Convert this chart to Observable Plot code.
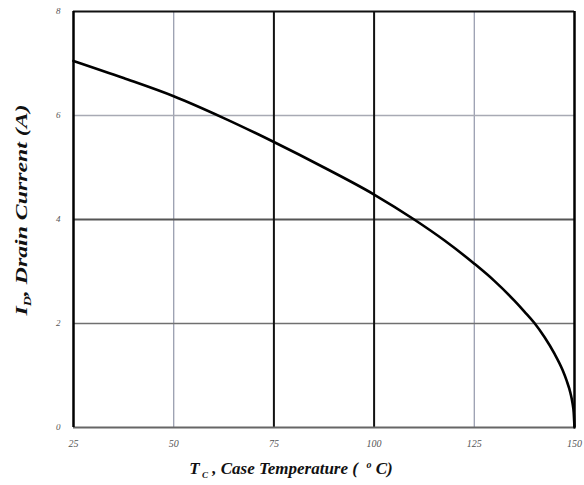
<!DOCTYPE html>
<html>
<head>
<meta charset="utf-8">
<script src="https://cdn.jsdelivr.net/npm/d3@7"></script>
<script src="https://cdn.jsdelivr.net/npm/@observablehq/plot@0.6"></script>
<style>
  html, body { margin: 0; padding: 0; background: #fff; }
</style>
</head>
<body>
<div id="chart"></div>
<script>
// Data
const caseTemp = [25, 37.5, 50, 62.5, 75, 87.5, 100, 110, 117.5, 125, 130, 135, 137.5, 140, 142.5, 145, 147, 148, 149, 149.5, 149.8, 150];
const drainCurrent = [7.05, 6.72, 6.37, 5.95, 5.49, 5.0, 4.48, 4.0, 3.6, 3.15, 2.82, 2.44, 2.23, 2.01, 1.74, 1.42, 1.11, 0.91, 0.66, 0.47, 0.29, 0.0];
const tempTicks = [25, 50, 75, 100, 125, 150];
const currentTicks = [0, 2, 4, 6, 8];
const darkGridX = [75, 100];
const lightGridX = [50, 125];
const darkGridY = [4];
const midGridY = [2];
const lightGridY = [6];

const curve = caseTemp.map((t, i) => ({t, i: drainCurrent[i]}));

const chart = Plot.plot({
  width: 584,
  height: 485,
  marginLeft: 73,
  marginRight: 10,
  marginTop: 11,
  marginBottom: 58,
  style: {background: "#fff", fontFamily: "Liberation Serif, serif"},
  x: {domain: [25, 150], ticks: tempTicks, tickSize: 0, tickPadding: 12, label: null},
  y: {domain: [0, 8], ticks: currentTicks, tickSize: 0, tickPadding: 13, label: null},
  marks: [
    Plot.ruleX(lightGridX, {stroke: "#9a9fb0", strokeWidth: 1.3}),
    Plot.ruleY(lightGridY, {stroke: "#a8aab4", strokeWidth: 1.5}),
    Plot.ruleY(midGridY, {stroke: "#707070", strokeWidth: 1.5}),
    Plot.ruleY(darkGridY, {stroke: "#555", strokeWidth: 2}),
    Plot.ruleX(darkGridX, {stroke: "#111", strokeWidth: 2}),
    Plot.ruleY([0], {stroke: "#666", strokeWidth: 2}),
    Plot.ruleY([8], {stroke: "#111", strokeWidth: 2}),
    Plot.ruleX([25, 150], {stroke: "#000", strokeWidth: 2.5}),
    Plot.line(curve, {x: "t", y: "i", stroke: "#000", strokeWidth: 2.6, curve: "monotone-x"}),
    Plot.axisX({ticks: tempTicks, tickSize: 0, tickPadding: 12, fill: "#555", fontSize: 10, fontStyle: "italic", label: null}),
    Plot.axisY({ticks: currentTicks, tickSize: 0, tickPadding: 13, fill: "#555", fontSize: 9, fontStyle: "italic", label: null})
  ]
});

document.getElementById("chart").appendChild(chart);

// Axis titles with subscripts
const svg = d3.select(chart);
const xt = svg.append("text")
  .attr("x", 291).attr("y", 474)
  .attr("text-anchor", "middle")
  .attr("font-family", "Liberation Serif, serif")
  .attr("font-style", "italic").attr("font-weight", "bold")
  .attr("font-size", 17).attr("fill", "#111");
xt.append("tspan").text("T");
xt.append("tspan").attr("font-size", 9).attr("dy", 4).text(" C");
xt.append("tspan").attr("dy", -4).text(" , Case Temperature (  ");
xt.append("tspan").attr("font-size", 10).attr("dy", -6).text("o");
xt.append("tspan").attr("dy", 6).text(" C)");

const yt = svg.append("text")
  .attr("transform", "translate(27,210) rotate(-90) scale(1.4,1)")
  .attr("text-anchor", "middle")
  .attr("font-family", "Liberation Serif, serif")
  .attr("font-style", "italic").attr("font-weight", "bold")
  .attr("font-size", 17).attr("fill", "#111");
yt.append("tspan").text("I");
yt.append("tspan").attr("font-size", 10).attr("dy", 4).text("D");
yt.append("tspan").attr("dy", -4).text(", Drain Current (A)");
</script>
</body>
</html>
